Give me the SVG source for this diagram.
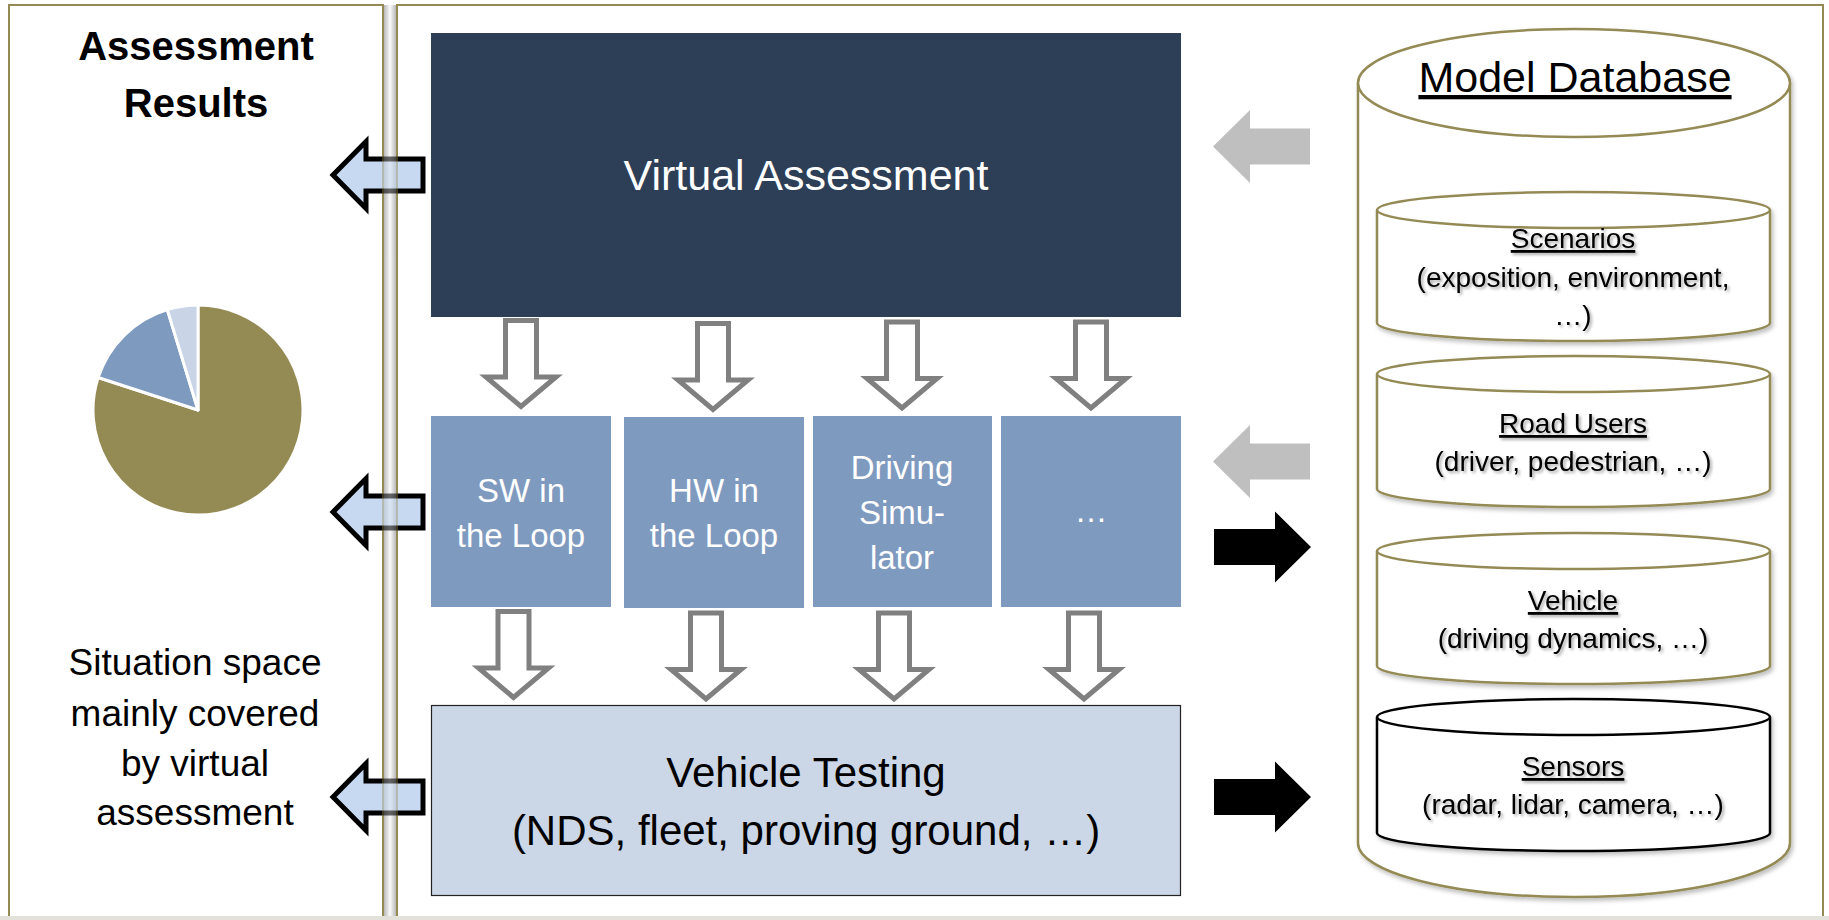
<svg xmlns="http://www.w3.org/2000/svg" width="1829" height="920" viewBox="0 0 1829 920">
  <defs>
    <style>
      .sans { font-family: "Liberation Sans", Arial, sans-serif; }
      .panel { fill: #ffffff; stroke: #948a54; stroke-width: 2; }
      .edge { stroke: #948a54; stroke-width: 2; }
      .cyl { fill: #ffffff; stroke: #948a54; stroke-width: 2.5; }
      .cyl-dark { fill: #ffffff; stroke: #000000; stroke-width: 2.5; }
      .down { fill: #ffffff; stroke: #808080; stroke-width: 5; stroke-linejoin: miter; }
      .out { fill: #c6d9f1; stroke: #000000; stroke-width: 5; stroke-linejoin: miter; }
      .feed { fill: #bfbfbf; }
      .push { fill: #000000; }
      .lbl { font-family: "Liberation Sans", Arial, sans-serif; font-size: 28px; fill: #000; text-anchor: middle; }
      .box-txt { font-family: "Liberation Sans", Arial, sans-serif; font-size: 33px; fill: #ffffff; text-anchor: middle; }
    </style>
    <linearGradient id="gap" x1="0" y1="0" x2="1" y2="0">
      <stop offset="0" stop-color="#b9b9b9"/>
      <stop offset="0.5" stop-color="#fbfbfb"/>
      <stop offset="1" stop-color="#b9b9b9"/>
    </linearGradient>
    <filter id="soft" x="-10%" y="-10%" width="120%" height="120%">
      <feDropShadow dx="2" dy="3" stdDeviation="2" flood-color="#000" flood-opacity="0.25"/>
    </filter>
    <filter id="tshadow" x="-10%" y="-30%" width="120%" height="160%">
      <feDropShadow dx="2" dy="2" stdDeviation="1.5" flood-color="#000" flood-opacity="0.35"/>
    </filter>
    <!-- hollow down arrow, top at origin -->
    <path id="downArrow" d="M-15.5,0 V56.5 H-35 L0,86 L35,56.5 H15.5 V0 Z"/>
    <!-- outlined left arrow, tip at origin -->
    <path id="leftArrow" d="M0,0 L33,-33.5 V-16 H90 V16 H33 V33.5 Z"/>
    <!-- solid left arrow, tip at origin -->
    <path id="feedArrow" d="M0,0 L37,-36.5 V-18 H97 V18 H37 V36.5 Z"/>
    <!-- solid right arrow, tip at origin -->
    <path id="pushArrow" d="M0,0 L-36,-35.5 V-18 H-97 V18 H-36 V35.5 Z"/>
  </defs>

  <rect x="0" y="0" width="1829" height="920" fill="#ffffff"/>

  <!-- background panels -->
  <g id="panels">
    <rect x="384" y="5" width="12" height="911" fill="url(#gap)"/>
    <rect class="panel" x="9" y="5" width="374" height="930"/>
    <rect class="panel" x="397" y="5" width="1426" height="930"/>
    <rect x="0" y="916" width="1829" height="4" fill="#e2e2da"/>
  </g>

  <!-- results column -->
  <g id="results">
    <text class="sans" x="196" y="60" font-size="40" font-weight="bold" text-anchor="middle">Assessment</text>
    <text class="sans" x="196" y="117" font-size="40" font-weight="bold" text-anchor="middle">Results</text>
  </g>

  <g id="pie" stroke="#ffffff" stroke-width="3" stroke-linejoin="round">
    <path d="M198,410 L198,305 A105,105 0 1 1 98.14,377.55 Z" fill="#948a54"/>
    <path d="M198,410 L98.14,377.55 A105,105 0 0 1 167.30,309.59 Z" fill="#7f9abf"/>
    <path d="M198,410 L167.30,309.59 A105,105 0 0 1 198,305 Z" fill="#c9d5e6"/>
  </g>

  <g id="coverage-note" class="sans" font-size="37" text-anchor="middle" fill="#000">
    <text x="195" y="675">Situation space</text>
    <text x="195" y="726">mainly covered</text>
    <text x="195" y="776">by virtual</text>
    <text x="195" y="825">assessment</text>
  </g>

  <!-- assessment methods -->
  <g id="virtual-assessment">
    <rect x="431" y="33" width="750" height="284" fill="#2d3e57"/>
    <text class="sans" x="806" y="190" font-size="43" fill="#ffffff" text-anchor="middle">Virtual Assessment</text>
  </g>

  <g id="sil">
    <rect x="431" y="416" width="180" height="191" fill="#7f9abf"/>
    <text class="box-txt" x="521" y="502">SW in</text>
    <text class="box-txt" x="521" y="547">the Loop</text>
  </g>

  <g id="hil">
    <rect x="624" y="417" width="180" height="191" fill="#7f9abf"/>
    <text class="box-txt" x="714" y="502">HW in</text>
    <text class="box-txt" x="714" y="547">the Loop</text>
  </g>

  <g id="simulator">
    <rect x="813" y="416" width="179" height="191" fill="#7f9abf"/>
    <text class="box-txt" x="902" y="479">Driving</text>
    <text class="box-txt" x="902" y="524">Simu-</text>
    <text class="box-txt" x="902" y="569">lator</text>
  </g>

  <g id="other-methods">
    <rect x="1001" y="416" width="180" height="191" fill="#7f9abf"/>
    <text class="box-txt" x="1091" y="522">…</text>
  </g>

  <g id="vehicle-testing">
    <rect x="431.5" y="705.5" width="749" height="190" fill="#cbd6e6" stroke="#222222" stroke-width="1.2"/>
    <text class="sans" x="806" y="787" font-size="42" fill="#000" text-anchor="middle">Vehicle Testing</text>
    <text class="sans" x="806" y="845" font-size="42" fill="#000" text-anchor="middle">(NDS, fleet, proving ground, …)</text>
  </g>

  <!-- model database -->
  <g id="model-database">
    <g filter="url(#soft)">
      <path class="cyl" d="M1358,83 V843 A216,54 0 0 0 1790,843 V83"/>
      <ellipse class="cyl" cx="1574" cy="83" rx="216" ry="54"/>
    </g>
    <text class="sans" x="1575" y="92" font-size="43" text-anchor="middle" text-decoration="underline">Model Database</text>
  </g>

  <g id="scenarios">
    <g filter="url(#soft)">
      <path class="cyl" d="M1377,210 V323 A196.5,18 0 0 0 1770,323 V210"/>
      <ellipse class="cyl" cx="1573.5" cy="210" rx="196.5" ry="18"/>
    </g>
    <g filter="url(#tshadow)">
      <text class="lbl" x="1573" y="248" text-decoration="underline">Scenarios</text>
      <text class="lbl" x="1573" y="287">(exposition, environment,</text>
      <text class="lbl" x="1573" y="325">…)</text>
    </g>
  </g>

  <g id="road-users">
    <g filter="url(#soft)">
      <path class="cyl" d="M1377,374 V489 A196.5,18 0 0 0 1770,489 V374"/>
      <ellipse class="cyl" cx="1573.5" cy="374" rx="196.5" ry="18"/>
    </g>
    <g filter="url(#tshadow)">
      <text class="lbl" x="1573" y="433" text-decoration="underline">Road Users</text>
      <text class="lbl" x="1573" y="471">(driver, pedestrian, …)</text>
    </g>
  </g>

  <g id="vehicle">
    <g filter="url(#soft)">
      <path class="cyl" d="M1377,551 V666 A196.5,18 0 0 0 1770,666 V551"/>
      <ellipse class="cyl" cx="1573.5" cy="551" rx="196.5" ry="18"/>
    </g>
    <g filter="url(#tshadow)">
      <text class="lbl" x="1573" y="610" text-decoration="underline">Vehicle</text>
      <text class="lbl" x="1573" y="648">(driving dynamics, …)</text>
    </g>
  </g>

  <g id="sensors">
    <g filter="url(#soft)">
      <path class="cyl-dark" d="M1377,717 V833 A196.5,18 0 0 0 1770,833 V717"/>
      <ellipse class="cyl-dark" cx="1573.5" cy="717" rx="196.5" ry="18"/>
    </g>
    <g filter="url(#tshadow)">
      <text class="lbl" x="1573" y="776" text-decoration="underline">Sensors</text>
      <text class="lbl" x="1573" y="814">(radar, lidar, camera, …)</text>
    </g>
  </g>

  <!-- connectors -->
  <g id="connectors">
    <!-- virtual assessment to methods -->
    <use href="#downArrow" class="down" x="521" y="320.5"/>
    <use href="#downArrow" class="down" x="713" y="323.5"/>
    <use href="#downArrow" class="down" x="902" y="322"/>
    <use href="#downArrow" class="down" x="1091" y="322"/>
    <!-- methods to vehicle testing -->
    <use href="#downArrow" class="down" x="513.5" y="611.5"/>
    <use href="#downArrow" class="down" x="706" y="613"/>
    <use href="#downArrow" class="down" x="894" y="613"/>
    <use href="#downArrow" class="down" x="1084" y="613"/>
    <!-- results flowing out -->
    <use href="#leftArrow" class="out" x="333" y="175"/>
    <use href="#leftArrow" class="out" x="333" y="512"/>
    <use href="#leftArrow" class="out" x="333" y="797"/>
    <!-- models supplied by the database -->
    <use href="#feedArrow" class="feed" x="1213" y="146.5"/>
    <use href="#feedArrow" class="feed" x="1213" y="461.5"/>
    <!-- data fed back to the database -->
    <use href="#pushArrow" class="push" x="1311" y="547"/>
    <use href="#pushArrow" class="push" x="1311" y="797"/>
  </g>

  <!-- faint panel divider showing through the outgoing arrows -->
  <g id="panel-divider" opacity="0.4">
    <rect x="384" y="5" width="12" height="911" fill="url(#gap)"/>
    <line class="edge" x1="383" y1="4" x2="383" y2="916"/>
    <line class="edge" x1="397" y1="4" x2="397" y2="916"/>
  </g>
</svg>
